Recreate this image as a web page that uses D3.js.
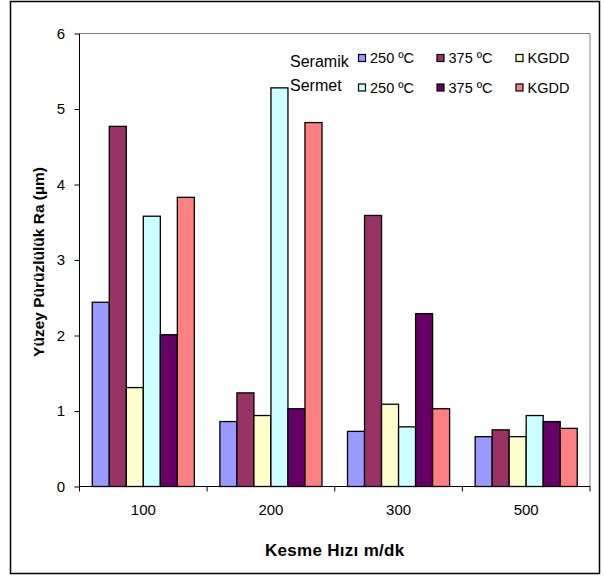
<!DOCTYPE html>
<html>
  <head>
    <meta charset="utf-8">
    <script src="https://cdn.jsdelivr.net/npm/d3@7"></script>
    <style>
      body { margin: 0; background: #fff; }
      text { font-family: "Liberation Sans", Arial, sans-serif; fill: #000; }
    </style>
  </head>
  <body>
    <script type="text/javascript">
      // cutting speeds (m/dk)
      var speeds = ["100", "200", "300", "500"];
      // series: tool + temperature
      var seriesNames = ["Seramik 250", "Seramik 375", "Seramik KGDD", "Sermet 250", "Sermet 375", "Sermet KGDD"];
      var seramik250 = [2.44, 0.86, 0.73, 0.66];
      var seramik375 = [4.77, 1.24, 3.59, 0.75];
      var seramikKGDD = [1.31, 0.94, 1.09, 0.66];
      var sermet250 = [3.58, 5.28, 0.79, 0.94];
      var sermet375 = [2.01, 1.03, 2.29, 0.86];
      var sermetKGDD = [3.83, 4.82, 1.03, 0.77];
      var colors = ["#9999FF", "#993366", "#FFFFCC", "#CCFFFF", "#660066", "#FF8080"];
      var yTicks = [0, 1, 2, 3, 4, 5, 6];
      var legendLabels = ["250 ºC", "375 ºC", "KGDD"];

      var values = [seramik250, seramik375, seramikKGDD, sermet250, sermet375, sermetKGDD];

      function draw() {
        var svg = d3.select("body").append("svg")
          .attr("width", 605)
          .attr("height", 576);

        // outer chart frame
        svg.append("rect")
          .attr("x", 10.5).attr("y", 1.5)
          .attr("width", 589).attr("height", 572)
          .attr("fill", "none").attr("stroke", "#000").attr("stroke-width", 1.5);

        var pLeft = 79.5, pRight = 590, pTop = 33.5, pBottom = 486.5;

        var x = d3.scaleBand().domain(speeds).range([pLeft, pRight]);
        var y = d3.scaleLinear().domain([0, 6]).range([pBottom, pTop]);

        // width for one bar: 6 bars + gap of 150%
        var bw = x.bandwidth() / 7.5;

        // plot area border (top, right)
        svg.append("path")
          .attr("d", "M" + pLeft + "," + pTop + "H" + pRight + "V" + pBottom)
          .attr("fill", "none").attr("stroke", "#808080").attr("stroke-width", 1);

        var data = [];
        speeds.forEach(function (s, i) {
          values.forEach(function (vals, j) {
            data.push({ speed: s, idx: j, value: vals[i] });
          });
        });

        svg.selectAll("rect.bar")
          .data(data)
          .enter()
          .append("rect")
            .attr("class", "bar")
            .attr("x", function (d) { return x(d.speed) + 0.75 * bw + d.idx * bw; })
            .attr("y", function (d) { return y(d.value); })
            .attr("width", bw)
            .attr("height", function (d) { return pBottom - y(d.value); })
            .attr("fill", function (d) { return colors[d.idx]; })
            .attr("stroke", "#000")
            .attr("stroke-width", 1.3);

        // y axis
        var yAxis = d3.axisLeft(y).tickValues(yTicks).tickSize(5).tickPadding(9.5).tickFormat(d3.format("d"));
        var gy = svg.append("g").attr("transform", "translate(" + pLeft + ",0)").call(yAxis);
        gy.select(".domain").attr("d", "M0," + pTop + "V" + pBottom).attr("stroke", "#000");
        gy.selectAll("text").style("font-size", "15px").attr("font-family", null);

        // x axis
        var xAxis = d3.axisBottom(x).tickSize(0).tickPadding(18);
        var gx = svg.append("g").attr("transform", "translate(0," + pBottom + ")").call(xAxis);
        gx.select(".domain").attr("d", "M" + pLeft + ",0H" + pRight).attr("stroke", "#000");
        gx.selectAll("text").style("font-size", "15px").attr("font-family", null);
        // category boundary ticks
        gx.selectAll("line.sep")
          .data(speeds.map(function (s) { return x(s); }).concat([pRight]))
          .enter()
          .append("line")
            .attr("class", "sep")
            .attr("x1", function (d) { return d; }).attr("x2", function (d) { return d; })
            .attr("y1", 0).attr("y2", 5)
            .attr("stroke", "#000");

        // axis titles
        svg.append("text")
          .attr("transform", "translate(44,262) rotate(-90)")
          .attr("text-anchor", "middle")
          .style("font-size", "15.5px")
          .style("font-weight", "bold")
          .text("Yüzey Pürüzlülük Ra (µm)");

        svg.append("text")
          .attr("x", (pLeft + pRight) / 2)
          .attr("y", 556)
          .attr("text-anchor", "middle")
          .style("font-size", "17px")
          .style("font-weight", "bold")
          .style("letter-spacing", "0.3px")
          .text("Kesme Hızı m/dk");

        // legend
        var rows = [{ name: "Seramik", y: 63, ty: 66.5, off: 0 }, { name: "Sermet", y: 92.5, ty: 90.5, off: 3 }];
        var colX = [358.5, 437, 516];
        rows.forEach(function (r) {
          svg.append("text")
            .attr("x", 290).attr("y", r.ty)
            .style("font-size", "16px")
            .text(r.name);
          legendLabels.forEach(function (lab, k) {
            svg.append("rect")
              .attr("x", colX[k]).attr("y", r.y - 8.5)
              .attr("width", 7).attr("height", 7)
              .attr("fill", colors[r.off + k])
              .attr("stroke", "#000").attr("stroke-width", 1.2);
            svg.append("text")
              .attr("x", colX[k] + 11.5).attr("y", r.y)
              .style("font-size", "14.5px")
              .text(lab);
          });
        });
      }

      draw();
    </script>
  </body>
</html>
